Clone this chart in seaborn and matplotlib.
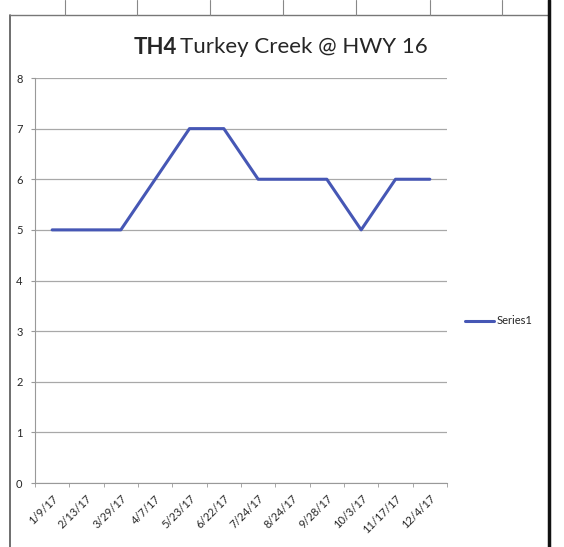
import pandas as pd
import seaborn as sns
import matplotlib.pyplot as plt
from matplotlib.lines import Line2D

dates = ['1/9/17', '2/13/17', '3/29/17', '4/7/17', '5/23/17', '6/22/17',
         '7/24/17', '8/24/17', '9/28/17', '10/3/17', '11/17/17', '12/4/17']
values = [5, 5, 5, 6, 7, 7, 6, 6, 6, 5, 6, 6]
yticks = [0, 1, 2, 3, 4, 5, 6, 7, 8]

df = pd.DataFrame({'date': dates, 'value': values})

sns.set_style('white')
plt.rcParams['font.family'] = ['Lato', 'DejaVu Sans']

fig = plt.figure(figsize=(5.64, 5.47), dpi=100)
ax = fig.add_axes([35/564, 1 - 483/547, 412/564, 405/547])

sns.lineplot(data=df, x='date', y='value', ax=ax, color='#4657b5', lw=2.2,
             sort=False, label='Series1')

ax.set_xlim(-0.5, len(dates) - 0.5)
ax.set_ylim(0, 8)
ax.set_yticks(yticks)
ax.set_yticklabels([str(v) for v in yticks], fontsize=8)
ax.set_xticks(range(len(dates)))
ax.set_xticklabels(dates, rotation=45, ha='right', rotation_mode='anchor', fontsize=8)
ax.set_xticks([i - 0.5 for i in range(len(dates) + 1)], minor=True)
ax.tick_params(axis='x', which='major', length=0, pad=7)
ax.tick_params(axis='x', which='minor', length=3, color='#999999', direction='out', bottom=True)
ax.tick_params(axis='y', length=3, color='#999999', direction='out', left=True, pad=6)
ax.set_xlabel('')
ax.set_ylabel('')

ax.yaxis.grid(True, color='#a8a8a8', lw=0.9)
ax.xaxis.grid(False)
for s in ['top', 'right']:
    ax.spines[s].set_visible(False)
ax.spines['left'].set_color('#999999')
ax.spines['bottom'].set_color('#999999')

ax.legend(loc='center left', bbox_to_anchor=(1.02, 0.40), frameon=False,
          fontsize=8, handlelength=2.6, handletextpad=0.2)

# title: bold code + normal name
fig.text(177/564, 1 - 47/547, 'TH4', fontsize=16, weight='bold', ha='right', va='center')
fig.text(180/564, 1 - 47/547, 'Turkey Creek @ HWY 16', fontsize=16, ha='left', va='center')

# chart frame and spreadsheet cells from the scan
fig.add_artist(Line2D([10/564, 10/564], [0, 1 - 15/547], color='#555555', lw=1.2))
fig.add_artist(Line2D([10/564, 549/564], [1 - 15/547, 1 - 15/547], color='#777777', lw=1))
fig.add_artist(Line2D([549/564, 549/564], [0, 1], color='#111111', lw=2.5))
for x in [65, 137, 210, 283, 356, 430, 502]:
    fig.add_artist(Line2D([x/564, x/564], [1 - 15/547, 1], color='#888888', lw=0.8))

fig.savefig('out.png', dpi=100)
